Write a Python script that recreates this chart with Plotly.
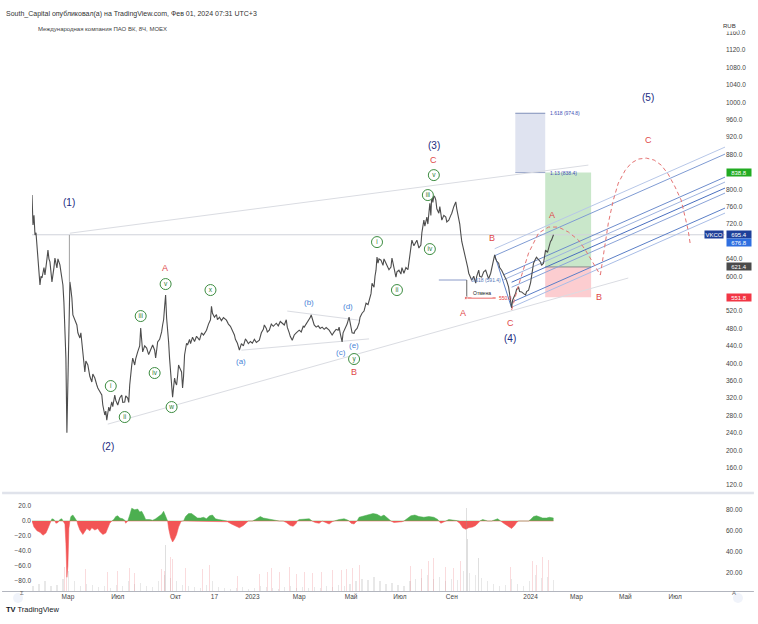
import plotly.graph_objects as go

# ================= DATA =================
# x axis = bar position (chart time scale), price in RUB
price_x = [32,33,34,35,36,37,38,39,40,41,42,44,45,47,48,49,50,51,52,54,55,56,57,58,60,61,62,63,64,65,66,67,68,
           70,71,72,73,75,77,78,80,81,83,84,85,86,88,90,92,93,95,97,98,100,102,103,105,106,107,108,109,110,112,113,
           115,116,118,120,122,123,125,126,128,129,130,132,133,135,136,138,140,141,142,143,145,147,149,150,152,153,
           155,156,157,158,160,162,163,164,165,166,167,168,169,170,171,172,173,174,175,176,177,178,179,180,182,183,
           184,185,186,187,188,190,191,193,195,197,200,202,204,207,209,211,212,213,215,217,218,220,222,224,227,229,
           231,233,235,236,238,240,242,244,246,247,249,251,253,255,257,260,262,264,265,267,268,270,272,274,277,279,
           281,283,285,287,288,290,291,293,295,297,300,302,304,305,307,309,311,312,314,315,317,319,321,323,325,327,
           330,332,333,335,337,339,340,341,342,343,344,346,348,350,351,352,353,355,356,358,360,361,363,365,367,369,
           370,372,373,375,376,377,378,379,380,382,384,385,387,389,390,392,393,395,397,398,400,402,403,405,407,409,
           410,411,413,415,416,418,420,422,423,425,426,428,429,430,431,432,433,434,435,436,437,438,440,441,443,445,
           447,448,450,452,453,455,457,458,460,461,462,463,465,466,468,469,470,472,473,475,477,478,480,481,483,485,
           487,489,490,492,494,496,497,498,500,501,503,505,507,508,510,511,512,513,514,515,517,518,520,521,523,525,
           527,528,530,532,533,534,535,537,538,540,542,543,545,546,547,549,550,552,553,555]
price_close = [787,718,740,695,700,665,649,610,580,600,596,620,603,640,660,640,633,610,587,620,642,630,619,640,626,610,596,580,540,488,412,240,350,
               587,570,550,511,500,488,470,458,470,426,410,380,405,396,370,357,375,366,350,343,335,327,304,281,290,269,285,299,290,311,300,
               327,315,304,320,327,310,311,325,320,310,350,395,412,396,410,426,440,481,440,426,440,435,420,426,440,442,
               430,412,430,449,455,472,488,500,530,557,504,480,449,410,380,350,322,345,366,355,350,370,396,390,380,343,
               370,419,430,446,442,455,445,460,450,462,453,470,465,476,490,500,531,515,506,512,500,506,498,505,499,490,
               485,476,465,455,446,430,445,440,455,453,445,450,446,455,448,453,470,478,488,480,472,476,490,485,492,486,
               496,492,488,500,483,470,462,453,465,470,476,472,485,483,490,495,505,511,495,488,483,486,480,483,478,482,
               476,470,465,472,478,476,483,470,455,449,470,480,490,506,495,480,470,469,475,480,492,506,515,520,538,535,
               545,560,584,575,600,614,644,630,640,637,625,640,630,620,615,621,642,620,598,610,614,605,620,607,620,615,
               630,650,683,670,675,683,665,672,700,729,715,736,720,745,768,740,791,770,785,782,775,755,745,760,729,740,
               736,725,729,740,745,760,771,755,736,720,699,680,660,650,637,620,607,595,591,600,584,600,614,600,598,610,
               614,600,595,607,625,649,640,635,630,620,614,605,598,590,575,560,540,527,545,550,561,570,575,565,564,560,
               557,565,568,585,598,615,630,640,644,638,633,625,630,645,660,655,665,680,683,695.4]

# long wicks of single bars
wick_x = [69.5]
wick_low = [587]
wick_high = [695]

last_price = 695.4
price_ticks = [v for v in range(120, 1161, 40) if v not in (560, 680, 840)]

time_tick_pos = [68, 118, 176, 215, 253, 300, 352, 401, 453, 532, 578, 627, 677]
time_tick_text = ["Мар", "Июл", "Окт", "17", "2023", "Мар", "Май", "Июл", "Сен", "2024", "Мар", "Май", "Июл"]

# oscillator (lower pane, left scale)
osc_x = [32,34,37,40,43,46,48,50,51,52,54,55,56,58,59,60,62,63,64,65,66,67,68,69,70,71,73,75,77,78,80,83,85,87,90,92,95,98,
         100,103,106,108,110,112,114,116,118,120,123,125,126,127,128,130,132,135,138,140,142,144,146,150,153,156,159,162,
         164,166,168,169,171,173,175,177,179,181,182,184,186,189,192,195,198,201,204,207,210,213,216,219,223,226,228,232,
         236,240,244,247,249,253,256,258,261,264,268,271,275,280,284,287,291,294,297,298,300,305,310,313,316,320,323,326,
         330,333,335,340,345,349,350,352,355,357,358,360,365,370,374,378,382,385,388,390,392,395,400,403,405,408,412,416,
         420,425,430,435,439,440,442,445,447,450,455,458,461,464,467,470,474,477,480,481,484,487,489,493,496,499,502,505,
         509,513,516,518,520,525,530,532,535,538,541,544,548,551,555]
osc_val = [0,-8,-13,-15,-19,-16,-10,-3,0,3,2,0,-3,-2,0,2,3,0,-2,-4,-30,-75,-60,-10,0,6,8,4,0,-5,-12,-18,-14,-10,-13,-9,-12,-10,
           -14,-18,-16,-9,-3,0,2,6,7,4,3,0,-3,-1,0,8,17,15,16,12,13,8,2,2,1,3,6,9,
           13,5,0,-10,-22,-28,-24,-18,-8,-2,0,0,6,10,10,7,4,4,5,3,7,8,3,2,1,0,-1,-4,
           -7,-9,-6,-2,0,0,2,4,6,4,3,2,2,0,0,-2,-6,-7,-3,0,2,3,3,0,-2,-3,0,-2,
           -4,-1,0,2,3,1,0,-3,-4,-1,0,5,7,8,10,9,6,8,5,2,0,-2,-2,-1,0,3,7,8,
           6,5,6,5,2,0,-3,-1,0,2,1,0,-3,-9,-11,-9,-8,-6,-2,0,2,1,0,0,2,3,0,-3,
           -6,-10,-6,-2,0,1,0,2,6,7,6,4,4,5,4]

# volume (lower pane, right scale)
vol_x = [33,39,45,51,57,63,69,75,81,87,93,99,105,111,117,123,129,135,141,147,153,159,165,171,177,183,189,195,201,207,
         213,219,225,231,237,243,249,255,261,267,273,279,285,291,297,303,309,315,321,327,333,339,345,351,357,363,369,375,
         381,387,393,399,405,411,417,423,429,435,441,447,453,459,465,471,477,483,489,495,501,507,513,519,525,531,537,543,
         549,555]
vol_val = [8,10,12,8,9,14,22,12,8,10,9,7,8,6,9,8,12,10,11,8,7,12,18,15,12,9,8,7,6,9,
           12,7,6,5,6,7,5,6,8,7,6,5,7,8,6,7,6,7,6,8,7,9,8,10,12,14,13,16,
           12,10,11,9,8,12,14,15,18,14,16,12,14,13,22,20,18,15,12,10,8,9,14,10,8,12,18,15,
           16,13]
vol_tall_x = [166, 468, 469, 480]
vol_tall_val = [47, 82, 52, 34]
vol_down_x = [33,36,40,43,65,67,86,108,118,130,135,162,165,171,173,186,203,210,238,260,268,272,280,290,297,305,313,
              322,333,342,347,353,360,365,372,378,393,412,423,430,435,447,455,462,512,534,538,544,550]
vol_down_val = [29,25,22,18,26,27,24,21,22,25,20,24,22,35,33,25,24,28,17,19,21,25,21,26,19,21,20,
                21,23,23,24,25,28,25,26,31,30,27,24,31,34,26,25,31,26,31,28,35,32]

# wave labels: (text, bar position, price)
navy_labels = [("(1)", 69, 770.6), ("(2)", 108, 209.7), ("(3)", 435, 901.6), ("(4)", 511, 457.9), ("(5)", 650, 1012)]
red_labels = [("A", 165, 618.9), ("B", 355, 379.8), ("C", 435, 867.1), ("A", 464, 515.4), ("B", 493, 687.8),
              ("C", 512, 492.4), ("A", 553, 740.7), ("B", 601, 552.2), ("C", 650, 913.1)]
green_labels = [("i", 111, 347.6), ("ii", 125, 276.3), ("iii", 141, 508.5), ("iv", 155, 377.5), ("v", 166, 582.1),
                ("w", 172, 299.3), ("x", 211, 568.3), ("y", 355, 409.7), ("i", 378, 678.6), ("ii", 398, 568.3),
                ("iii", 429, 786.7), ("iv", 431, 662.5), ("v", 435, 832.6)]
blue_labels = [("(a)", 242, 405.1), ("(b)", 310, 540.7), ("(c)", 342, 425.7), ("(d)", 349, 531.5), ("(e)", 355, 441.8)]

# drawings: trend lines (x0, p0, x1, p1)
grey_lines = [(70, 699, 590, 855.6), (108, 260, 630, 596), (242, 430, 370, 456), (288, 520, 360, 499)]
fork_lines = [(496, 663.3, 727, 897.0, "#b7c7e8"), (496, 647.2, 727, 880.9, "#7f9bd3"),
              (505, 603.4, 727, 828.0, "#6d8ccc"), (505, 592.0, 727, 816.6, "#9fb3de"),
              (513, 586.3, 727, 802.8, "#4a6fbf"), (513, 574.8, 727, 791.3, "#8aa3d8"),
              (513, 540.3, 727, 756.8, "#5b7fc7"), (513, 528.8, 727, 745.3, "#a9bde6"),
              (496, 649, 513, 527, "#5b7fc7")]

# projected path
arc1_x = [513, 520, 530, 540, 550, 560, 570, 580, 587, 593, 598, 602]
arc1_p = [522.3, 579.8, 653.3, 699.3, 713.1, 713.1, 701.6, 683.2, 660.2, 637.2, 618.9, 602.8]
arc2_x = [602, 606, 610, 615, 620, 627, 633, 640, 648, 656, 663, 670, 677, 683, 687, 690, 692]
arc2_p = [602.8, 660.2, 722.3, 775.2, 814.3, 844.1, 860.2, 869.4, 871.7, 867.1, 855.6, 834.9, 805.1, 775.2, 736.1, 706.2, 676.3]

# long position / fib extension
ext_x0, ext_x1 = 516.7, 546.7
pos_x0, pos_x1 = 546.7, 592.7
ext_1618, ext_113 = 974.8, 838.4
entry, target, stop = 621.4, 838.8, 551.8
fib_618 = 591.4
cancel_level = 550.0

FONT = "Liberation Sans"

# ================= FIGURE =================
fig = go.Figure()

fig.add_shape(type="rect", xref="x", yref="y", x0=ext_x0, x1=ext_x1, y0=ext_113, y1=ext_1618,
              fillcolor="#dfe3f0", line=dict(width=0), layer="below")
fig.add_shape(type="rect", xref="x", yref="y", x0=pos_x0, x1=pos_x1, y0=entry, y1=target,
              fillcolor="rgba(76,175,80,0.30)", line=dict(width=0), layer="below")
fig.add_shape(type="rect", xref="x", yref="y", x0=pos_x0, x1=pos_x1, y0=stop, y1=entry,
              fillcolor="rgba(242,54,69,0.25)", line=dict(width=0), layer="below")
fig.add_trace(go.Scatter(x=[ext_x0, ext_x1], y=[ext_1618, ext_1618], mode="lines",
                         line=dict(color="#7f8fb8", width=1), hoverinfo="skip", showlegend=False))
fig.add_trace(go.Scatter(x=[ext_x0, ext_x1], y=[ext_113, ext_113], mode="lines",
                         line=dict(color="#9aa6c8", width=1), hoverinfo="skip", showlegend=False))
fig.add_trace(go.Scatter(x=[pos_x0, pos_x1], y=[entry, entry], mode="lines",
                         line=dict(color="#8a8a8a", width=1), hoverinfo="skip", showlegend=False))

# current price line
fig.add_trace(go.Scatter(x=[32, 727], y=[last_price, last_price], mode="lines",
                         line=dict(color="#d0d3da", width=1), hoverinfo="skip", showlegend=False))

for x0, p0, x1, p1 in grey_lines:
    fig.add_trace(go.Scatter(x=[x0, x1], y=[p0, p1], mode="lines",
                             line=dict(color="#dadce2", width=1), hoverinfo="skip", showlegend=False))
for x0, p0, x1, p1, c in fork_lines:
    fig.add_trace(go.Scatter(x=[x0, x1], y=[p0, p1], mode="lines",
                             line=dict(color=c, width=1), hoverinfo="skip", showlegend=False))

fig.add_trace(go.Scatter(x=[440, 468], y=[fib_618, fib_618], mode="lines",
                         line=dict(color="#8a9ac8", width=1), hoverinfo="skip", showlegend=False))
fig.add_trace(go.Scatter(x=[468, 468], y=[fib_618, cancel_level], mode="lines",
                         line=dict(color="#666", width=1), hoverinfo="skip", showlegend=False))
fig.add_trace(go.Scatter(x=[467, 497], y=[cancel_level, cancel_level], mode="lines+markers",
                         marker=dict(size=[3, 0], color="#e53935"),
                         line=dict(color="#e53935", width=1), hoverinfo="skip", showlegend=False))

# price
fig.add_trace(go.Scatter(x=price_x, y=price_close, mode="lines",
                         line=dict(color="#4d4d4d", width=1.1), hoverinfo="skip", showlegend=False))
for wx, wl, wh in zip(wick_x, wick_low, wick_high):
    fig.add_trace(go.Scatter(x=[wx, wx], y=[wl, wh], mode="lines",
                             line=dict(color="#a0a0a0", width=1), hoverinfo="skip", showlegend=False))

for ax, ap in ((arc1_x, arc1_p), (arc2_x, arc2_p)):
    fig.add_trace(go.Scatter(x=ax, y=ap, mode="lines", line=dict(color="#e57373", width=1, dash="4px,3px"),
                             hoverinfo="skip", showlegend=False))

fig.add_trace(go.Scatter(x=[g[1] for g in green_labels], y=[g[2] for g in green_labels],
                         mode="markers+text", text=[g[0] for g in green_labels],
                         textposition="middle center",
                         textfont=dict(family=FONT, size=6.5, color="#2e7d32"),
                         marker=dict(symbol="circle", size=11, color="white",
                                     line=dict(color="#3c8c40", width=1)),
                         hoverinfo="skip", showlegend=False))

osc_pos = [max(v, 0) for v in osc_val]
osc_neg = [min(v, 0) for v in osc_val]
fig.add_trace(go.Bar(x=vol_x, y=vol_val, yaxis="y3", width=1.2, marker=dict(color="rgba(150,150,150,0.22)", line=dict(width=0)),
                     hoverinfo="skip", showlegend=False))
fig.add_trace(go.Bar(x=vol_tall_x, y=vol_tall_val, yaxis="y3", width=0.9, marker=dict(color="rgba(150,150,150,0.3)", line=dict(width=0)),
                     hoverinfo="skip", showlegend=False))
fig.add_trace(go.Bar(x=vol_down_x, y=vol_down_val, yaxis="y3", width=0.9, marker=dict(color="rgba(235,110,120,0.25)", line=dict(width=0)),
                     hoverinfo="skip", showlegend=False))
fig.add_trace(go.Scatter(x=osc_x, y=osc_pos, yaxis="y2", mode="lines", fill="tozeroy",
                         line=dict(color="#4caf50", width=0.5), fillcolor="#4caf50",
                         hoverinfo="skip", showlegend=False))
fig.add_trace(go.Scatter(x=osc_x, y=osc_neg, yaxis="y2", mode="lines", fill="tozeroy",
                         line=dict(color="#f25555", width=0.5), fillcolor="#f25555",
                         hoverinfo="skip", showlegend=False))

# ================= TEXT =================
ann = []
for t, x, p in navy_labels:
    ann.append(dict(x=x, y=p, xref="x", yref="y", text=t, showarrow=False,
                    font=dict(family=FONT, size=10, color="#1a2a80")))
for t, x, p in red_labels:
    ann.append(dict(x=x, y=p, xref="x", yref="y", text=t, showarrow=False,
                    font=dict(family=FONT, size=9, color="#e04848")))
for t, x, p in blue_labels:
    ann.append(dict(x=x, y=p, xref="x", yref="y", text=t, showarrow=False,
                    font=dict(family=FONT, size=8, color="#4a86d8")))

ann.append(dict(x=549, y=ext_1618, xref="x", yref="y", text="1.618 (974.8)", showarrow=False, xanchor="left",
                font=dict(family=FONT, size=5, color="#3f51b5")))
ann.append(dict(x=549, y=ext_113, xref="x", yref="y", text="1.13 (838.4)", showarrow=False, xanchor="left",
                font=dict(family=FONT, size=5, color="#3f51b5")))
ann.append(dict(x=470, y=fib_618, xref="x", yref="y", text="0.618 (591.4)", showarrow=False, xanchor="left",
                font=dict(family=FONT, size=5, color="#5677b8")))
ann.append(dict(x=472, y=561, xref="x", yref="y", text="Отмена", showarrow=False, xanchor="left",
                bgcolor="white", font=dict(family=FONT, size=5, color="#222")))
ann.append(dict(x=498, y=cancel_level, xref="x", yref="y", text="550.0", showarrow=False, xanchor="left",
                font=dict(family=FONT, size=5, color="#e53935")))


def px(xp):
    return (xp - 32) / 695.0


def py(yp):
    return (591 - yp) / 577.0


for val, txt, bg in ((target, "838.8", "#22ab22"), (last_price, "695.4", "#1e3f99"),
                     (676.8, "676.8", "#2f6fe0"), (entry, "621.4", "#4a4a4a"), (stop, "551.8", "#f23645")):
    ann.append(dict(x=px(728), y=val, xref="paper", yref="y", text=txt, showarrow=False, xanchor="left",
                    bgcolor=bg, borderpad=0.5, width=23, font=dict(family=FONT, size=6, color="white")))
ann.append(dict(x=px(726), y=last_price, xref="paper", yref="y", text="VKCO", showarrow=False, xanchor="right",
                bgcolor="#1e3f99", borderpad=0.5, font=dict(family=FONT, size=6, color="white")))
ann.append(dict(x=px(741), y=py(20), xref="paper", yref="paper", text="RUB", showarrow=False,
                bgcolor="white", borderpad=2, font=dict(family=FONT, size=6, color="#333")))

ann.append(dict(x=px(4), y=py(8), xref="paper", yref="paper", text="South_Capital опубликовал(а) на TradingView.com, Фев 01, 2024 07:31 UTC+3",
                showarrow=False, xanchor="left", font=dict(family=FONT, size=7, color="#333")))
ann.append(dict(x=px(36), y=py(24), xref="paper", yref="paper", text="Международная компания ПАО ВК, 8Ч, MOEX",
                showarrow=False, xanchor="left", font=dict(family=FONT, size=6, color="#444")))
ann.append(dict(x=px(4), y=py(616), xref="paper", yref="paper", text="<b>TV</b> TradingView",
                showarrow=False, xanchor="left", font=dict(family=FONT, size=7.5, color="#131722")))
ann.append(dict(x=px(18), y=py(598), xref="paper", yref="paper", text="Σ",
                showarrow=False, font=dict(family=FONT, size=6, color="#666")))
ann.append(dict(x=px(740), y=py(598), xref="paper", yref="paper", text="A",
                showarrow=False, font=dict(family=FONT, size=6, color="#666")))

shapes = [
    dict(type="rect", xref="paper", yref="paper", x0=px(2), x1=px(756), y0=py(605), y1=py(13),
         line=dict(color="#e0e3eb", width=1), layer="below"),
    dict(type="line", xref="paper", yref="paper", x0=px(32), x1=px(32), y0=py(605), y1=py(13),
         line=dict(color="#9598a1", width=1)),
    dict(type="line", xref="paper", yref="paper", x0=px(727), x1=px(727), y0=py(605), y1=py(13),
         line=dict(color="#9598a1", width=1)),
    dict(type="line", xref="paper", yref="paper", x0=px(2), x1=px(756), y0=py(591.5), y1=py(591.5),
         line=dict(color="#b2b5be", width=1)),
    dict(type="line", xref="paper", yref="paper", x0=px(2), x1=px(756), y0=py(493), y1=py(493),
         line=dict(color="#e0e3eb", width=2.5)),
    dict(type="circle", xref="paper", yref="paper", x0=px(13), x1=px(23), y0=py(603), y1=py(593),
         fillcolor="#f0f3fa", line=dict(width=0), layer="below"),
    dict(type="circle", xref="paper", yref="paper", x0=px(735), x1=px(745), y0=py(603), y1=py(593),
         fillcolor="#f0f3fa", line=dict(width=0), layer="below"),
]

fig.update_layout(
    width=758, height=624,
    margin=dict(l=32, r=31, t=14, b=33),
    paper_bgcolor="white", plot_bgcolor="white",
    bargap=0, barmode="overlay",
    showlegend=False,
    annotations=ann,
    shapes=shapes,
    font=dict(family=FONT, size=7, color="#333"),
    xaxis=dict(domain=[0, 1], range=[32, 727], anchor="y2", showgrid=False, zeroline=False, showline=False,
               tickvals=time_tick_pos, ticktext=time_tick_text, ticks="", tickfont=dict(size=6.5, color="#444")),
    yaxis=dict(domain=[0.1716, 1], range=[104, 1203], side="right", anchor="x", showgrid=False, zeroline=False,
               showline=False, tickvals=price_ticks, ticktext=["%.1f" % v for v in price_ticks], ticks="",
               tickfont=dict(size=6.5, color="#444")),
    yaxis2=dict(domain=[0, 0.1664], range=[-93.3, 34.7], side="left", anchor="x", showgrid=False, zeroline=False,
                showline=False, tickvals=[20, 0, -20, -40, -60, -80],
                ticktext=["20.0", "0.0", "\u221220.0", "\u221240.0", "\u221260.0", "\u221280.0"], ticks="",
                tickfont=dict(size=6.5, color="#444")),
    yaxis3=dict(overlaying="y2", range=[2.9, 94.3], side="right", anchor="x", showgrid=False, zeroline=False,
                showline=False, tickvals=[20, 40, 60, 80], ticktext=["20.00", "40.00", "60.00", "80.00"], ticks="",
                tickfont=dict(size=6.5, color="#444")),
)

fig.write_html("out.html", config={"displayModeBar": False},
               post_script="document.body.style.margin='0px';document.body.style.overflow='hidden';")
